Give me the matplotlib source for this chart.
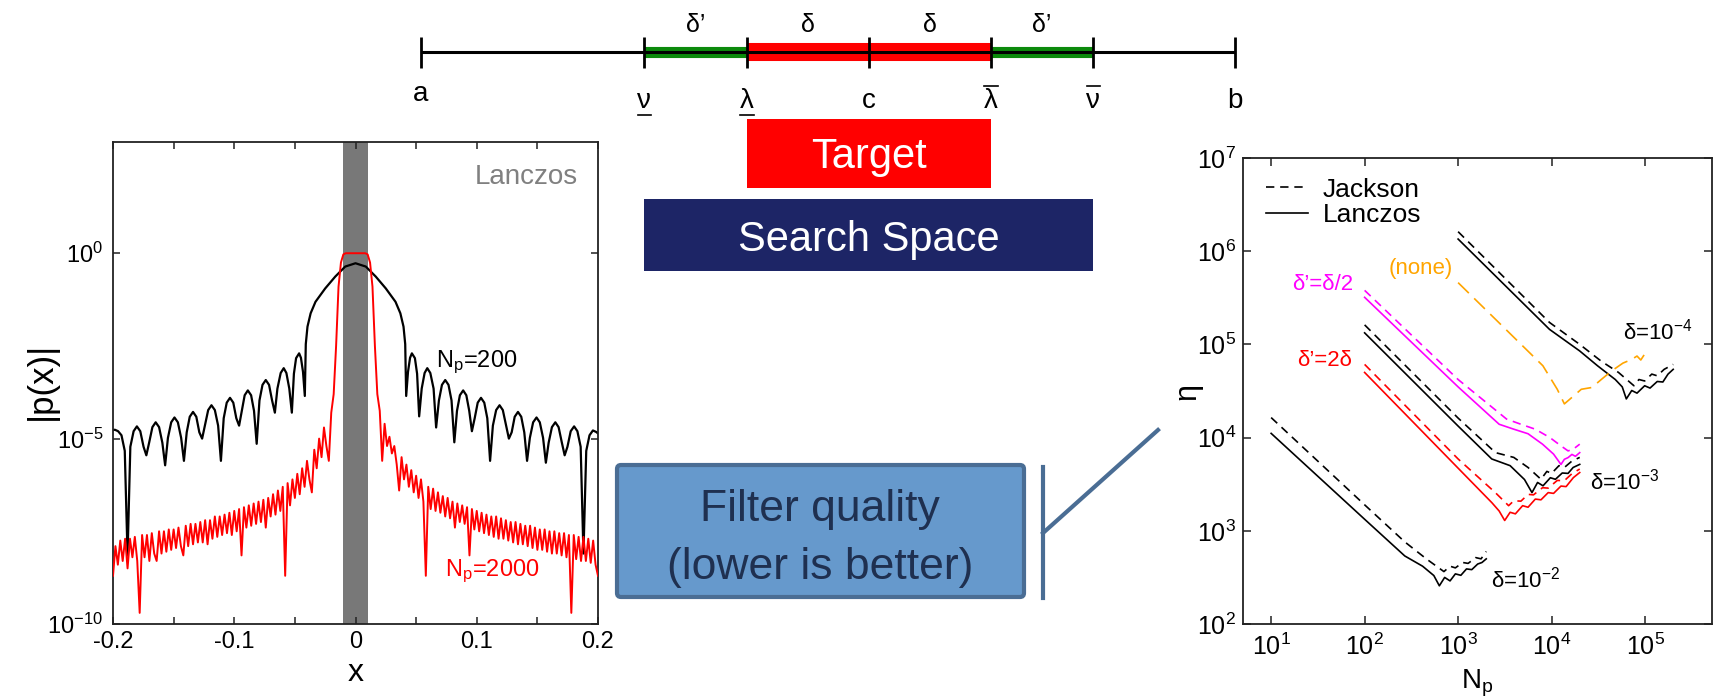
import numpy as np
import matplotlib
matplotlib.use('Agg')
import matplotlib.pyplot as plt
from matplotlib.patches import Rectangle, FancyBboxPatch
from matplotlib.lines import Line2D

plt.rcParams['font.family'] = ['Liberation Sans', 'DejaVu Sans']
plt.rcParams['mathtext.fontset'] = 'custom'
plt.rcParams['mathtext.rm'] = 'Liberation Sans'
plt.rcParams['mathtext.it'] = 'Liberation Sans:italic'
plt.rcParams['mathtext.bf'] = 'Liberation Sans:bold'
plt.rcParams['mathtext.default'] = 'regular'
plt.rcParams['axes.unicode_minus'] = False

W, H = 1721, 697

# ---- schematic interval, positions in units of delta with c at 0
interval_labels = ['a', 'ν', 'λ', 'c', 'λ', 'ν', 'b']
interval_pos = [-3.67, -1.84, -1.0, 0.0, 1.0, 1.84, 3.0]
interval_bars = ['', 'under', 'under', '', 'over', 'over', '']
gap_labels = ['δ’', 'δ', 'δ', 'δ’']

# ---- left panel: |p(x)| for the Lanczos filter (log10 values)
# black, N_p=200: node positions on x >= 0, mirrored for x < 0
black_x_half = [0.0, 0.0085, 0.0167, 0.025, 0.033, 0.037, 0.0396, 0.041, 0.0418,
                0.0433, 0.045, 0.0465, 0.049, 0.0508, 0.0525,
                0.0546, 0.057, 0.0592, 0.0617, 0.0644, 0.0665,
                0.0688, 0.0713, 0.074, 0.0767, 0.0792, 0.0815,
                0.0837, 0.0861, 0.0888, 0.0914, 0.0938, 0.096,
                0.0983, 0.1008, 0.1035, 0.1062, 0.1087, 0.111,
                0.1133, 0.116, 0.1188, 0.1215, 0.1242, 0.1265,
                0.1288, 0.1313, 0.134, 0.1367, 0.1392, 0.1415,
                0.1438, 0.1465, 0.1493, 0.152, 0.1547, 0.157,
                0.1593, 0.162, 0.1648, 0.1675, 0.1702, 0.1725,
                0.1748, 0.1775, 0.1803, 0.183, 0.1857, 0.188,
                0.1903, 0.193, 0.1958, 0.1985, 0.2]
black_logy_right = [-0.27, -0.36, -0.63, -0.95, -1.31, -1.62, -1.98, -2.45, -3.85,
                    -3.2, -2.82, -2.70, -2.83, -3.25, -4.40,
                    -3.65, -3.23, -3.10, -3.23, -3.65, -4.70,
                    -3.97, -3.55, -3.42, -3.55, -3.97, -5.10,
                    -4.25, -3.83, -3.70, -3.83, -4.25, -4.80,
                    -4.45, -4.03, -3.90, -4.03, -4.45, -5.60,
                    -4.65, -4.23, -4.10, -4.23, -4.65, -5.00,
                    -4.83, -4.41, -4.28, -4.41, -4.83, -5.60,
                    -4.98, -4.56, -4.43, -4.56, -4.98, -5.65,
                    -5.11, -4.69, -4.56, -4.69, -5.11, -5.45,
                    -5.22, -4.80, -4.67, -4.80, -5.22, -8.10,
                    -5.33, -4.91, -4.78, -4.82, -4.86]
black_logy_left = [-0.27, -0.36, -0.63, -0.95, -1.31, -1.62, -1.98, -2.45, -3.85,
                   -3.2, -2.82, -2.70, -2.83, -3.25, -4.30,
                   -3.65, -3.23, -3.10, -3.23, -3.65, -4.30,
                   -3.97, -3.55, -3.42, -3.55, -3.97, -5.14,
                   -4.25, -3.83, -3.70, -3.83, -4.25, -4.65,
                   -4.45, -4.03, -3.90, -4.03, -4.45, -5.60,
                   -4.65, -4.23, -4.10, -4.23, -4.65, -5.00,
                   -4.83, -4.41, -4.28, -4.41, -4.83, -5.60,
                   -4.98, -4.56, -4.43, -4.56, -4.98, -5.72,
                   -5.11, -4.69, -4.56, -4.69, -5.11, -5.45,
                   -5.22, -4.80, -4.67, -4.80, -5.22, -8.15,
                   -5.33, -4.91, -4.80, -4.76, -4.77]

# red, N_p=2000: sampled every 0.002 from -0.2 to 0.2
red_logy_left = [-8.7, -7.9, -8.4, -7.75, -8.3, -7.7, -8.5, -7.7, -8.2, -7.65,
                 -8.3, -9.7, -7.6, -8.2, -7.6, -8.3, -7.55, -8.1, -8.3, -7.5,
                 -8.1, -7.5, -8.05, -7.45, -8.0, -7.45, -7.95, -7.4, -7.9, -8.15,
                 -7.35, -7.9, -7.3, -7.85, -7.3, -7.8, -7.25, -7.8, -7.2, -7.85,
                 -7.2, -7.7, -7.1, -7.65, -7.1, -7.6, -7.05, -7.55, -7.0, -7.6,
                 -6.95, -7.5, -6.9, -8.15, -6.85, -7.4, -6.8, -7.35, -6.75, -7.3,
                 -6.7, -7.25, -6.65, -7.4, -6.6, -7.1, -6.5, -7.05, -6.4, -6.95,
                 -6.3, -8.7, -6.2, -6.8, -6.1, -6.6, -5.95, -6.5, -5.8, -6.3,
                 -5.6, -6.1, -6.45, -5.3, -5.8, -5.0, -5.5, -4.7, -5.2, -5.6,
                 -4.3, -3.8, -2.5, -0.9, -0.25, -0.03, 0.0, 0.0, 0.0, 0.0,
                 0.0]
red_logy_right = [0.0, 0.0, 0.0, 0.0, -0.03, -0.25, -0.9, -2.5, -3.8, -4.25,
                  -5.6, -4.6, -5.2, -4.95, -5.4, -5.2, -5.7, -6.4, -5.5, -6.1,
                  -5.7, -6.3, -5.85, -6.45, -6.0, -6.6, -6.1, -6.7, -8.7, -6.3,
                  -6.9, -6.35, -6.95, -6.45, -7.0, -6.55, -7.1, -6.6, -7.15, -6.7,
                  -7.4, -6.75, -7.25, -6.8, -7.3, -6.85, -8.15, -6.9, -7.45, -6.95,
                  -7.5, -7.0, -7.55, -7.05, -7.6, -7.1, -7.65, -7.1, -7.7, -7.15,
                  -7.7, -7.2, -7.75, -7.25, -7.8, -7.25, -7.85, -7.3, -7.85, -7.35,
                  -7.9, -7.35, -7.95, -7.4, -8.0, -7.45, -8.0, -7.45, -8.05, -7.5,
                  -8.1, -7.5, -8.1, -7.55, -8.15, -7.55, -8.2, -7.6, -9.7, -7.6,
                  -8.25, -7.65, -8.3, -7.65, -8.3, -7.7, -8.35, -7.75, -8.4, -8.7]
target_halfwidth = 0.01

# ---- right panel: eta vs N_p
d2_lan_np = [10, 100, 269, 417, 550, 630, 718, 820, 935, 1070, 1230, 1400, 1620, 1800, 2000]
d2_lan_eta = [1.11e4, 1.33e3, 537, 417, 331, 257, 316, 290, 345, 333, 390, 383, 440, 457, 500]
d2_jac_np = [10, 100, 269, 457, 705, 820, 935, 1120, 1280, 1540, 1760, 2000]
d2_jac_eta = [1.64e4, 1.9e3, 760, 500, 365, 417, 400, 457, 447, 516, 500, 600]

d3_lan_np = [100, 1000, 2290, 3600, 5130, 6170, 7080, 8100, 9700, 11000, 13000, 15000, 17000, 20000]
d3_lan_eta = [1.33e5, 1.33e4, 5900, 5000, 3550, 2570, 3300, 3040, 3710, 3570, 4170, 4130, 4780, 5160]
d3_jac_np = [100, 1000, 2510, 3940, 5600, 7700, 8900, 10000, 12000, 13700, 16500, 20000]
d3_jac_eta = [1.62e5, 1.62e4, 6900, 6130, 4780, 3570, 4340, 4130, 5000, 4780, 5600, 6130]

d4_lan_np = [1000, 9500, 20000, 31000, 48000, 57000, 63000, 72000, 82000, 99000,
             113000, 135000, 155000, 176000, 200000]
d4_lan_eta = [1.35e6, 1.45e5, 8.5e4, 5.9e4, 4.2e4, 3.5e4, 2.6e4, 3.2e4, 3.0e4, 3.6e4,
              3.4e4, 4.0e4, 3.95e4, 4.8e4, 5.4e4]
d4_jac_np = [1000, 9500, 20000, 34000, 52000, 76000, 86000, 99000, 118000, 135000, 160000, 200000]
d4_jac_eta = [1.62e6, 1.72e5, 1.0e5, 6.6e4, 5.0e4, 3.6e4, 4.2e4, 4.05e4, 4.8e4, 4.6e4, 5.4e4, 6.1e4]

half_lan_np = [100, 1000, 2750, 3950, 5600, 8000, 10500, 12600, 13700, 15000, 16500, 18000, 20000]
half_lan_eta = [3.2e5, 3.5e4, 1.39e4, 1.23e4, 1.1e4, 8500, 6650, 5150, 5850, 6100, 6600, 6300, 6900]
half_jac_np = [100, 1000, 3300, 4700, 6700, 9600, 12600, 15000, 17000, 20000]
half_jac_eta = [3.8e5, 4.2e4, 1.58e4, 1.39e4, 1.23e4, 1.0e4, 8150, 7200, 7500, 8500]

two_lan_np = [100, 1000, 2300, 2750, 3150, 3600, 4100, 4900, 5600, 6700, 7700, 9200,
              10500, 12600, 14300, 17100, 20000]
two_lan_eta = [5.0e4, 4.7e3, 2000, 1630, 1290, 1580, 1520, 1860, 1790, 2190, 2150, 2570,
               2520, 3020, 2980, 3720, 4220]
two_jac_np = [100, 1000, 2500, 3470, 3940, 4700, 5600, 6400, 8000, 9200, 11500, 13700, 16500, 20000]
two_jac_eta = [6.1e4, 5.9e3, 2570, 1860, 2100, 2080, 2460, 2430, 2900, 2870, 3470, 3450, 4100, 4600]

none_jac_np = [1000, 8070, 11500, 13700, 16500, 20800, 27000, 34000, 44000, 58000,
               72000, 82000, 90000, 100000]
none_jac_eta = [4.6e5, 5.9e4, 3.3e4, 2.3e4, 2.7e4, 3.3e4, 3.45e4, 4.2e4, 5.2e4, 6.3e4,
                6.9e4, 7.5e4, 6.8e4, 8.0e4]

DASH = (0, (5, 3.5))
DASH_LONG = (0, (9, 4.5))
MAGENTA, ORANGE, RED = '#ff00ff', '#ffa500', '#ff0000'

fig = plt.figure(figsize=(W / 100, H / 100), dpi=100)


def px_axes(left, top, right, bottom):
    return fig.add_axes([left / W, 1 - bottom / H, (right - left) / W, (bottom - top) / H])


# ================= top: interval diagram + boxes =================
ax_top = px_axes(421, 0, 1235, 275)
ax_top.set_xlim(interval_pos[0], interval_pos[-1])
ax_top.set_ylim(275, 0)
ax_top.axis('off')
ax_top.patch.set_visible(False)

p = interval_pos
ax_top.plot([p[1], p[2]], [52, 52], color='#0b8a0b', lw=8, solid_capstyle='butt', clip_on=False)
ax_top.plot([p[4], p[5]], [52, 52], color='#0b8a0b', lw=8, solid_capstyle='butt', clip_on=False)
ax_top.plot([p[2], p[4]], [52, 52], color=RED, lw=13, solid_capstyle='butt', clip_on=False)
ax_top.plot([p[0], p[-1]], [52, 52], color='k', lw=2.2, solid_capstyle='butt', clip_on=False)
ax_top.vlines(p, 37, 68, color='k', lw=2, clip_on=False)
for pos, lab, bar in zip(p, interval_labels, interval_bars):
    base = 101 if lab == 'a' else 108
    ax_top.text(pos, base, lab, ha='center', va='baseline', fontsize=20, clip_on=False)
    if bar == 'under':
        ax_top.plot([pos - 0.055, pos + 0.055], [115, 115], color='k', lw=1.2, clip_on=False)
    elif bar == 'over':
        ax_top.plot([pos - 0.055, pos + 0.055], [86, 86], color='k', lw=1.2, clip_on=False)
for i, lab in enumerate(gap_labels):
    mid = 0.5 * (p[i + 1] + p[i + 2])
    ax_top.text(mid, 32, lab, ha='center', va='baseline', fontsize=18)

ax_top.add_patch(Rectangle((p[2], 119), p[4] - p[2], 69, facecolor=RED, edgecolor='none'))
ax_top.text(0, 168, 'Target', color='white', ha='center', va='baseline', fontsize=30)
ax_top.add_patch(Rectangle((p[1], 199), p[5] - p[1], 72, facecolor='#1d2566', edgecolor='none'))
ax_top.text(0, 251, 'Search Space', color='white', ha='center', va='baseline', fontsize=30)

# ================= left: |p(x)| =================
ax1 = px_axes(113, 142, 598, 624)
bx = np.array(black_x_half)
black_x = np.concatenate([-bx[::-1], bx[1:]])
black_y = 10.0 ** np.concatenate([np.array(black_logy_left)[::-1], np.array(black_logy_right)[1:]])
red_x = np.linspace(-0.2, 0.2, len(red_logy_left) + len(red_logy_right))
red_y = 10.0 ** np.array(red_logy_left + red_logy_right)

ax1.axvspan(-target_halfwidth, target_halfwidth, color='#787878', lw=0, zorder=1)
ax1.semilogy(black_x, black_y, color='k', lw=1.6, zorder=2)
ax1.semilogy(red_x, red_y, color=RED, lw=1.4, zorder=3)
ax1.set_xlim(-0.2, 0.2)
ax1.set_ylim(1e-10, 1e3)
ax1.set_yticks([1e-10, 1e-5, 1e0])
ax1.minorticks_off()
ax1.set_xticks([-0.2, -0.15, -0.1, -0.05, 0, 0.05, 0.1, 0.15, 0.2])
ax1.set_xticklabels(['-0.2', '', '-0.1', '', '0', '', '0.1', '', '0.2'])
ax1.tick_params(direction='in', top=True, right=True, length=5, width=1.1,
                labelsize=17, color='#222222')
ax1.tick_params(axis='x', pad=5)
ax1.tick_params(axis='y', pad=7)
for s in ax1.spines.values():
    s.set_linewidth(1.3)
    s.set_color('#222222')
ax1.text(0.183, 10 ** 1.87, 'Lanczos', color='#808080', ha='right', va='baseline', fontsize=20)
ax1.text(0.066, 10 ** -3.06, 'N$_p$=200', color='k', ha='left', va='baseline', fontsize=17)
ax1.text(0.074, 10 ** -8.72, 'N$_p$=2000', color=RED, ha='left', va='baseline', fontsize=17)
ax1.text(-0.148, 0.504, '|p(x)|', rotation=90, transform=ax1.transAxes,
         ha='center', va='center', fontsize=25)
ax1.text(0.5, -0.118, 'x', transform=ax1.transAxes, ha='center', va='baseline', fontsize=23)

# ================= right: eta vs N_p =================
ax2 = px_axes(1243, 158, 1712, 624)
lw = 1.2
ax2.loglog(d2_lan_np, d2_lan_eta, color='k', lw=lw)
ax2.loglog(d2_jac_np, d2_jac_eta, color='k', lw=lw, linestyle=DASH)
ax2.loglog(d3_lan_np, d3_lan_eta, color='k', lw=lw)
ax2.loglog(d3_jac_np, d3_jac_eta, color='k', lw=lw, linestyle=DASH)
ax2.loglog(d4_lan_np, d4_lan_eta, color='k', lw=lw)
ax2.loglog(d4_jac_np, d4_jac_eta, color='k', lw=lw, linestyle=DASH)
ax2.loglog(half_lan_np, half_lan_eta, color=MAGENTA, lw=lw)
ax2.loglog(half_jac_np, half_jac_eta, color=MAGENTA, lw=lw, linestyle=DASH)
ax2.loglog(two_lan_np, two_lan_eta, color=RED, lw=lw)
ax2.loglog(two_jac_np, two_jac_eta, color=RED, lw=lw, linestyle=DASH)
ax2.loglog(none_jac_np, none_jac_eta, color=ORANGE, lw=lw, linestyle=DASH_LONG)
ax2.set_xlim(5, 5.2e5)
ax2.set_ylim(1e2, 1e7)
ax2.set_xticks([1e1, 1e2, 1e3, 1e4, 1e5])
ax2.set_yticks([1e2, 1e3, 1e4, 1e5, 1e6, 1e7])
ax2.minorticks_off()
ax2.tick_params(direction='in', top=True, right=True, length=6, width=1.1,
                labelsize=18, color='#222222')
ax2.tick_params(axis='x', pad=7)
ax2.tick_params(axis='y', pad=5)
for s in ax2.spines.values():
    s.set_linewidth(1.3)
    s.set_color('#222222')

handles = [Line2D([], [], color='k', lw=lw, linestyle=DASH),
           Line2D([], [], color='k', lw=lw)]
ax2.legend(handles, ['Jackson', 'Lanczos'], loc='upper left', frameon=False, fontsize=19,
           bbox_to_anchor=(0.049, 0.958), borderpad=0, borderaxespad=0,
           handlelength=1.6, handletextpad=0.55, labelspacing=0.05)

ax2.text(75, 4.4e5, 'δ’=δ/2', color=MAGENTA, ha='right', va='center', fontsize=16)
ax2.text(400, 6.5e5, '(none)', color=ORANGE, ha='center', va='center', fontsize=16)
ax2.text(73, 6.7e4, 'δ’=2δ', color=RED, ha='right', va='center', fontsize=16)
ax2.text(5.8e4, 1.12e5, 'δ=10$^{-4}$', color='k', ha='left', va='baseline', fontsize=16)
ax2.text(2.6e4, 2750, 'δ=10$^{-3}$', color='k', ha='left', va='baseline', fontsize=16)
ax2.text(2240, 245, 'δ=10$^{-2}$', color='k', ha='left', va='baseline', fontsize=16)
ax2.text(-0.118, 0.50, 'η', rotation=90, transform=ax2.transAxes,
         ha='center', va='center', fontsize=22)
ax2.text(0.5, -0.127, 'N$_p$', transform=ax2.transAxes, ha='center', va='center', fontsize=20)

# ================= callout: filter quality =================
ax_over = px_axes(0, 0, W, H)
ax_over.set_xlim(0, W)
ax_over.set_ylim(H, 0)
ax_over.axis('off')
ax_over.patch.set_visible(False)
ax_over.add_patch(FancyBboxPatch((617, 465), 407, 132,
                                 boxstyle='round,pad=0,rounding_size=4',
                                 facecolor='#6699cc', edgecolor='#4a6d94', lw=3))
ax_over.text(820, 521, 'Filter quality', color='#1f3050', ha='center', va='baseline', fontsize=32)
ax_over.text(820, 579, '(lower is better)', color='#1f3050', ha='center', va='baseline', fontsize=32)
ax_over.plot([1043, 1043], [467, 598], color='#4a6d94', lw=3)
ax_over.plot([1043, 1158], [533, 430], color='#4a6d94', lw=3)

fig.savefig('out.png', dpi=100)
